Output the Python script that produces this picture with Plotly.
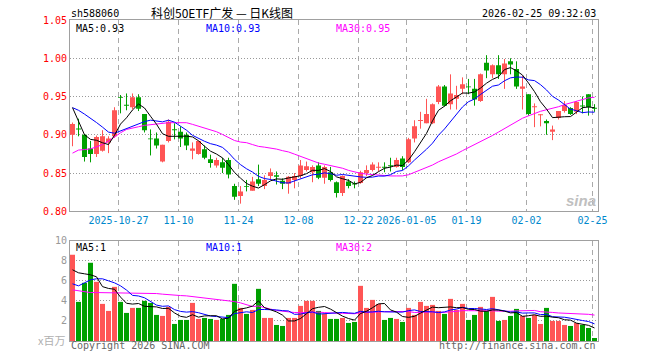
import plotly.graph_objects as go

# ---------------- data ----------------
opens  = [0.900,0.908,0.900,0.882,0.875,0.879,0.890,0.898,0.949,0.939,
          0.936,0.949,0.927,0.895,0.895,0.865,0.892,0.907,0.904,0.900,
          0.879,0.875,0.881,0.868,0.860,0.864,0.867,0.833,0.820,0.833,
          0.827,0.842,0.833,0.846,0.847,0.840,0.836,0.841,0.846,0.854,
          0.851,0.860,0.844,0.851,0.838,0.824,0.839,0.836,0.837,0.850,
          0.854,0.857,0.858,0.860,0.858,0.869,0.864,0.895,0.918,0.915,
          0.915,0.943,0.963,0.940,0.947,0.960,0.963,0.960,0.944,0.994,
          0.979,0.991,0.979,0.996,0.986,0.960,0.953,0.936,0.9255,0.918,
          0.904,0.922,0.931,0.935,0.930,0.938,0.953,0.935]
highs  = [0.916,0.921,0.901,0.892,0.899,0.906,0.898,0.936,0.952,0.954,
          0.954,0.953,0.927,0.907,0.903,0.887,0.920,0.915,0.911,0.903,
          0.890,0.892,0.886,0.874,0.870,0.870,0.870,0.836,0.833,0.841,
          0.845,0.861,0.847,0.856,0.852,0.843,0.846,0.850,0.867,0.865,
          0.860,0.864,0.860,0.858,0.839,0.847,0.842,0.839,0.853,0.860,
          0.864,0.864,0.864,0.870,0.870,0.872,0.896,0.919,0.930,0.947,
          0.941,0.965,0.965,0.979,0.964,0.975,0.973,0.973,0.980,1.004,
          0.992,1.004,0.999,1.000,0.996,0.977,0.953,0.941,0.927,0.920,
          0.912,0.931,0.944,0.936,0.944,0.950,0.953,0.940]
lows   = [0.885,0.898,0.865,0.864,0.871,0.878,0.876,0.896,0.928,0.932,
          0.933,0.931,0.903,0.873,0.882,0.864,0.890,0.894,0.884,0.880,
          0.868,0.874,0.868,0.857,0.857,0.850,0.843,0.815,0.810,0.826,
          0.827,0.833,0.829,0.841,0.835,0.829,0.823,0.830,0.843,0.852,
          0.838,0.842,0.836,0.839,0.818,0.820,0.830,0.830,0.836,0.846,
          0.852,0.852,0.851,0.852,0.857,0.854,0.863,0.890,0.908,0.915,
          0.914,0.940,0.937,0.933,0.933,0.953,0.953,0.938,0.943,0.974,
          0.974,0.973,0.960,0.979,0.960,0.933,0.925,0.910,0.911,0.900,
          0.893,0.920,0.929,0.926,0.927,0.928,0.925,0.930]
closes = [0.914,0.907,0.871,0.875,0.897,0.898,0.895,0.932,0.948,0.938,
          0.949,0.934,0.906,0.894,0.886,0.887,0.917,0.906,0.895,0.886,
          0.882,0.892,0.870,0.863,0.867,0.857,0.848,0.819,0.826,0.832,
          0.839,0.836,0.841,0.851,0.845,0.836,0.845,0.846,0.860,0.859,
          0.858,0.844,0.858,0.841,0.824,0.846,0.833,0.835,0.851,0.854,
          0.861,0.858,0.857,0.859,0.867,0.858,0.894,0.911,0.919,0.927,
          0.940,0.963,0.938,0.954,0.952,0.966,0.962,0.946,0.979,0.984,
          0.991,0.979,0.993,0.992,0.963,0.963,0.927,0.937,0.926,0.915,
          0.907,0.931,0.939,0.927,0.943,0.937,0.936,0.934]
volumes = [8.6,3.9,5.8,7.8,5.9,3.7,3.0,5.4,3.9,2.8,
           3.3,3.3,4.0,3.8,2.6,2.5,3.4,1.7,2.1,2.1,
           3.8,2.2,2.3,2.2,2.1,2.2,2.6,5.7,3.3,2.7,
           3.1,5.2,2.3,2.3,1.6,1.5,2.3,2.3,3.5,4.0,
           4.0,3.0,2.7,2.2,2.2,2.3,1.8,1.9,5.5,3.3,
           4.1,3.7,2.1,2.3,2.2,1.9,3.3,2.6,3.9,3.5,
           3.6,3.0,2.7,4.2,3.1,3.7,2.1,2.6,3.4,3.0,
           4.4,2.0,2.1,2.5,3.2,2.5,2.3,2.6,1.7,3.3,
           2.0,2.0,1.6,1.5,1.8,1.6,1.3,0.3]

# moving-average values before enough in-window data exist
ma5_head  = [0.9355,0.918,0.900,0.894]
ma10_head = [0.9355,0.932,0.927,0.922,0.916,0.910,0.9035,0.902,0.905]
ma30_head = [0.876,0.880,0.8807,0.8816,0.8842,0.8873,0.8917,0.8974,0.9026,0.907,
             0.9092,0.9105,0.9123,0.9132,0.9136,0.9145,0.9158,0.9158,0.9158,0.9158,
             0.9136,0.9114,0.9092,0.907,0.904,0.9004,0.896,0.8925,0.8905]
vma5_head  = [7.1,6.8,6.7,6.6]
vma10_head = [5.7,5.5,5.8,6.1,6.2,6.2,6.0,5.8,5.5]
vma30_head = [5.1,5.0,4.87,4.83,4.83,4.82,4.82,4.81,4.80,4.80,
              4.80,4.79,4.78,4.76,4.73,4.67,4.6,4.57,4.53,4.5,
              4.43,4.37,4.3,4.27,4.2,4.13,4.03,3.93,3.8]

tick_index  = [8, 18, 28, 38, 48, 56, 66, 76, 87]
tick_labels = ["2025-10-27", "11-10", "11-24", "12-08", "12-22",
               "2026-01-05", "01-19", "02-02", "02-25"]
price_ticks = [0.80, 0.85, 0.90, 0.95, 1.00, 1.05]
vol_ticks   = [2, 4, 6, 8, 10]

# ---------------- helpers ----------------
def rolling(vals, n, head):
    out = list(head)
    for i in range(len(head), len(vals)):
        out.append(sum(vals[i - n + 1:i + 1]) / n)
    return out

N = len(closes)
idx = list(range(N))
RED = "#ff5555"
GREEN = "#00a000"
MONO = "DejaVu Sans Mono"

up = [c >= o for o, c in zip(opens, closes)]
colors = [RED if u else GREEN for u in up]
body_base = [min(o, c) for o, c in zip(opens, closes)]
body_h = [max(abs(c - o), 0.0012) for o, c in zip(opens, closes)]

fig = go.Figure()

# wicks
for flag, col in ((True, RED), (False, GREEN)):
    wx, wy = [], []
    for i in idx:
        if up[i] == flag:
            wx += [i, i, None]
            wy += [lows[i], highs[i], None]
    fig.add_trace(go.Scatter(x=wx, y=wy, mode="lines", line=dict(color=col, width=1),
                             hoverinfo="skip", xaxis="x", yaxis="y"))

# bodies
fig.add_trace(go.Bar(x=idx, y=body_h, base=body_base, width=5/6,
                     marker=dict(color=colors, line=dict(width=0)), xaxis="x", yaxis="y"))

# price MAs
for n, head, col in ((30, ma30_head, "#ff00ff"), (10, ma10_head, "#0000ff"), (5, ma5_head, "#000000")):
    fig.add_trace(go.Scatter(x=idx, y=rolling(closes, n, head), mode="lines",
                             line=dict(color=col, width=1), xaxis="x", yaxis="y"))

# volume
fig.add_trace(go.Bar(x=idx, y=volumes, width=5/6,
                     marker=dict(color=colors, line=dict(width=0)), xaxis="x2", yaxis="y2"))
for n, head, col in ((30, vma30_head, "#ff00ff"), (10, vma10_head, "#0000ff"), (5, vma5_head, "#000000")):
    fig.add_trace(go.Scatter(x=idx, y=rolling(volumes, n, head), mode="lines",
                             line=dict(color=col, width=1), xaxis="x2", yaxis="y2"))

# page geometry (body margin is removed below, so page pixels == figure pixels)
W, H = 660, 360
PL, PR, PT, PB = 70, 598, 20, 341          # plot box in page pixels
L, T, R, B = PL, PT, W - PR, H - PB
PW, PH = PR - PL, PB - PT

def px(xp):  # page pixel -> paper x
    return (xp - PL) / PW

def py(yp):  # page pixel -> paper y
    return (PB - yp) / PH

xr = [-0.5 + 1/12, N - 0.5 + 1/12]
grid_x = [t - 1/3 for t in tick_index]
frame = dict(showline=True, linecolor="#a0a0a0", linewidth=1, mirror=True,
             zeroline=False, automargin=False)

fig.update_layout(
    width=W, height=H, margin=dict(l=L, r=R, t=T, b=B, autoexpand=False),
    paper_bgcolor="white", plot_bgcolor="white", showlegend=False,
    barmode="overlay", hovermode=False,
    xaxis=dict(domain=[0, 1], anchor="y", range=xr, tickvals=grid_x, ticktext=tick_labels,
               showgrid=True, gridcolor="#aaaaaa", griddash="5px,4px", gridwidth=1,
               ticks="", tickfont=dict(family=MONO, size=10, color="#0088cc"), **frame),
    yaxis=dict(domain=[py(211.3), 1], anchor="x", range=[0.80, 1.05], tickvals=price_ticks,
               tickformat=".2f", showgrid=True, gridcolor="#999999", griddash="1px,2px",
               ticks="", tickfont=dict(family=MONO, size=10, color="#ff0000"), **frame),
    xaxis2=dict(domain=[0, 1], anchor="y2", range=xr, matches="x", tickvals=grid_x,
                showticklabels=False, showgrid=True, gridcolor="#aaaaaa", griddash="5px,4px",
                ticks="", **frame),
    yaxis2=dict(domain=[0, py(240.7)], anchor="x2", range=[0, 10], tickvals=vol_ticks,
                showgrid=True, gridcolor="#999999", griddash="1px,2px",
                ticks="", tickfont=dict(family=MONO, size=10, color="#999999"), **frame),
)

def ann(text, x, y, color, xanchor="left", size=10, family=MONO, **kw):
    fig.add_annotation(text=text, x=px(x), y=py(y), xref="paper", yref="paper",
                       xanchor=xanchor, yanchor="middle", showarrow=False, borderpad=0,
                       font=dict(family=family, size=size, color=color), **kw)

ann("sh588060", 70, 13, "#000000")
ann("科创50ETF广发 — 日K线图", 150, 12.5, "#000000", size=12, family="Noto Sans CJK SC")
ann("2026-02-25 09:32:03", 597, 13, "#000000", xanchor="right")
ann("MA5:0.93", 75, 28, "#000000")
ann("MA10:0.93", 205, 28, "#0000ff")
ann("MA30:0.95", 335, 28, "#ff00ff")
ann("MA5:1", 75, 247, "#000000")
ann("MA10:1", 205, 247, "#0000ff")
ann("MA30:2", 335, 247, "#ff00ff")
ann("x百万", 66, 340, "#b0b0b0", xanchor="right", size=11, family="Noto Sans CJK SC")
ann("Copyright 2026 SINA.COM", 70, 346, "#666666")
ann("http://finance.sina.com.cn", 597, 346, "#666666", xanchor="right")
ann("<b><i>sina</i></b>", 581, 200, "#c0c0c0", xanchor="center", size=15, family="Arial")

fig.write_html("out.html", config={"displayModeBar": False, "staticPlot": True},
               post_script="document.body.style.margin='0';")
